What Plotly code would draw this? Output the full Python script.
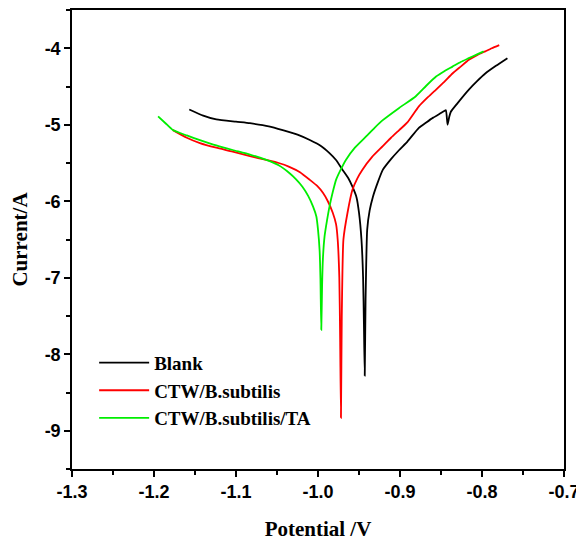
import plotly.graph_objects as go

# Blank
blank_x = [-1.157, -1.14, -1.124, -1.10, -1.083, -1.06, -1.043, -1.025, -1.010, -0.996,
           -0.986, -0.978, -0.970, -0.963, -0.958, -0.953, -0.950, -0.947, -0.945, -0.944,
           -0.943, -0.942, -0.940, -0.937, -0.933, -0.927, -0.921, -0.911, -0.901, -0.891,
           -0.877, -0.868, -0.860, -0.852, -0.846, -0.844, -0.842, -0.840, -0.838, -0.830,
           -0.816, -0.806, -0.796, -0.783, -0.769]
blank_y = [-4.80, -4.88, -4.93, -4.96, -4.98, -5.02, -5.07, -5.13, -5.20, -5.28,
           -5.37, -5.46, -5.59, -5.70, -5.81, -5.95, -6.15, -6.50, -7.00, -7.60,
           -8.28, -7.30, -6.37, -6.12, -5.94, -5.75, -5.59, -5.45, -5.33, -5.22,
           -5.04, -4.97, -4.91, -4.86, -4.82, -4.81, -5.00, -4.90, -4.83, -4.72,
           -4.54, -4.43, -4.33, -4.23, -4.13]

# CTW/B.subtilis
sub_x = [-1.177, -1.16, -1.144, -1.124, -1.104, -1.083, -1.063, -1.048, -1.035, -1.022,
         -1.010, -1.001, -0.994, -0.988, -0.982, -0.978, -0.976, -0.974, -0.973, -0.972,
         -0.971, -0.969, -0.964, -0.958, -0.952, -0.946, -0.934, -0.921, -0.911, -0.901,
         -0.891, -0.877, -0.866, -0.856, -0.846, -0.836, -0.826, -0.816, -0.806, -0.796,
         -0.788, -0.779]
sub_y = [-5.07, -5.17, -5.24, -5.30, -5.35, -5.41, -5.46, -5.50, -5.55, -5.62,
         -5.72, -5.80, -5.89, -6.00, -6.15, -6.30, -6.50, -7.00, -7.80, -8.83,
         -7.50, -6.50, -6.15, -5.85, -5.70, -5.59, -5.42, -5.28, -5.17, -5.07,
         -4.97, -4.76, -4.64, -4.54, -4.44, -4.33, -4.24, -4.15, -4.09, -4.04,
         -4.00, -3.96]

# CTW/B.subtilis/TA
ta_x = [-1.195, -1.186, -1.177, -1.16, -1.144, -1.124, -1.104, -1.083, -1.063, -1.048,
        -1.035, -1.027, -1.019, -1.012, -1.006, -1.002, -1.000, -0.998, -0.997, -0.996,
        -0.995, -0.994, -0.992, -0.989, -0.986, -0.982, -0.978, -0.972, -0.966, -0.955,
        -0.941, -0.931, -0.921, -0.901, -0.881, -0.868, -0.856, -0.846, -0.836, -0.826,
        -0.816, -0.806, -0.798]
ta_y = [-4.89, -4.98, -5.07, -5.14, -5.20, -5.27, -5.33, -5.39, -5.46, -5.53,
        -5.63, -5.71, -5.81, -5.93, -6.07, -6.20, -6.37, -6.65, -7.02, -7.68,
        -7.10, -6.75, -6.46, -6.25, -6.07, -5.88, -5.72, -5.58, -5.46, -5.30,
        -5.15, -5.04, -4.94, -4.78, -4.63, -4.49, -4.37, -4.30, -4.24, -4.18,
        -4.13, -4.08, -4.04]

series_names = ["Blank", "CTW/B.subtilis", "CTW/B.subtilis/TA"]
series_colors = ["#000000", "#ff0000", "#00ee00"]

x_ticks = [-1.3, -1.2, -1.1, -1.0, -0.9, -0.8, -0.7]
x_tick_text = ["-1.3", "-1.2", "-1.1", "-1.0", "-0.9", "-0.8", "-0.7"]
y_ticks = [-4, -5, -6, -7, -8, -9]
y_tick_text = ["-4", "-5", "-6", "-7", "-8", "-9"]

fig = go.Figure()
for xs, ys, name, color in zip([blank_x, sub_x, ta_x], [blank_y, sub_y, ta_y],
                               series_names, series_colors):
    fig.add_trace(go.Scatter(x=xs, y=ys, mode="lines", name=name,
                             line=dict(color=color, width=1.8, shape="spline", smoothing=0.5)))

axis_common = dict(
    showline=True, linecolor="black", linewidth=1.5, mirror=True,
    ticks="outside", tickcolor="black", tickwidth=1.5, ticklen=6,
    showgrid=False, zeroline=False, automargin=False,
    tickfont=dict(family="Liberation Sans", size=18, color="black", weight="bold"),
)

fig.update_xaxes(
    range=[-1.3, -0.7], tickvals=x_ticks, ticktext=x_tick_text,
    minor=dict(dtick=0.05, ticks="outside", ticklen=4, tickcolor="black", tickwidth=1.5),
    title=dict(text="<b>Potential /V</b>", font=dict(family="Liberation Serif", size=21, color="black"),
               standoff=20),
    **axis_common,
)
fig.update_yaxes(
    range=[-9.5, -3.5], tickvals=y_ticks, ticktext=y_tick_text,
    minor=dict(dtick=0.5, ticks="outside", ticklen=4, tickcolor="black", tickwidth=1.5),
    title=dict(text="<b>Current/A</b>", font=dict(family="Liberation Serif", size=21, color="black"),
               standoff=11),
    **axis_common,
)

fig.update_layout(
    width=576, height=534,
    margin=dict(l=64, r=20, t=2, b=73),
    paper_bgcolor="white", plot_bgcolor="white",
    showlegend=True,
    legend=dict(x=0.045, y=0.273, xanchor="left", yanchor="top",
                bgcolor="rgba(0,0,0,0)",
                font=dict(family="Liberation Serif", size=19, color="black", weight="bold"),
                itemwidth=50, tracegroupgap=0),
)

fig.write_html("out.html")
